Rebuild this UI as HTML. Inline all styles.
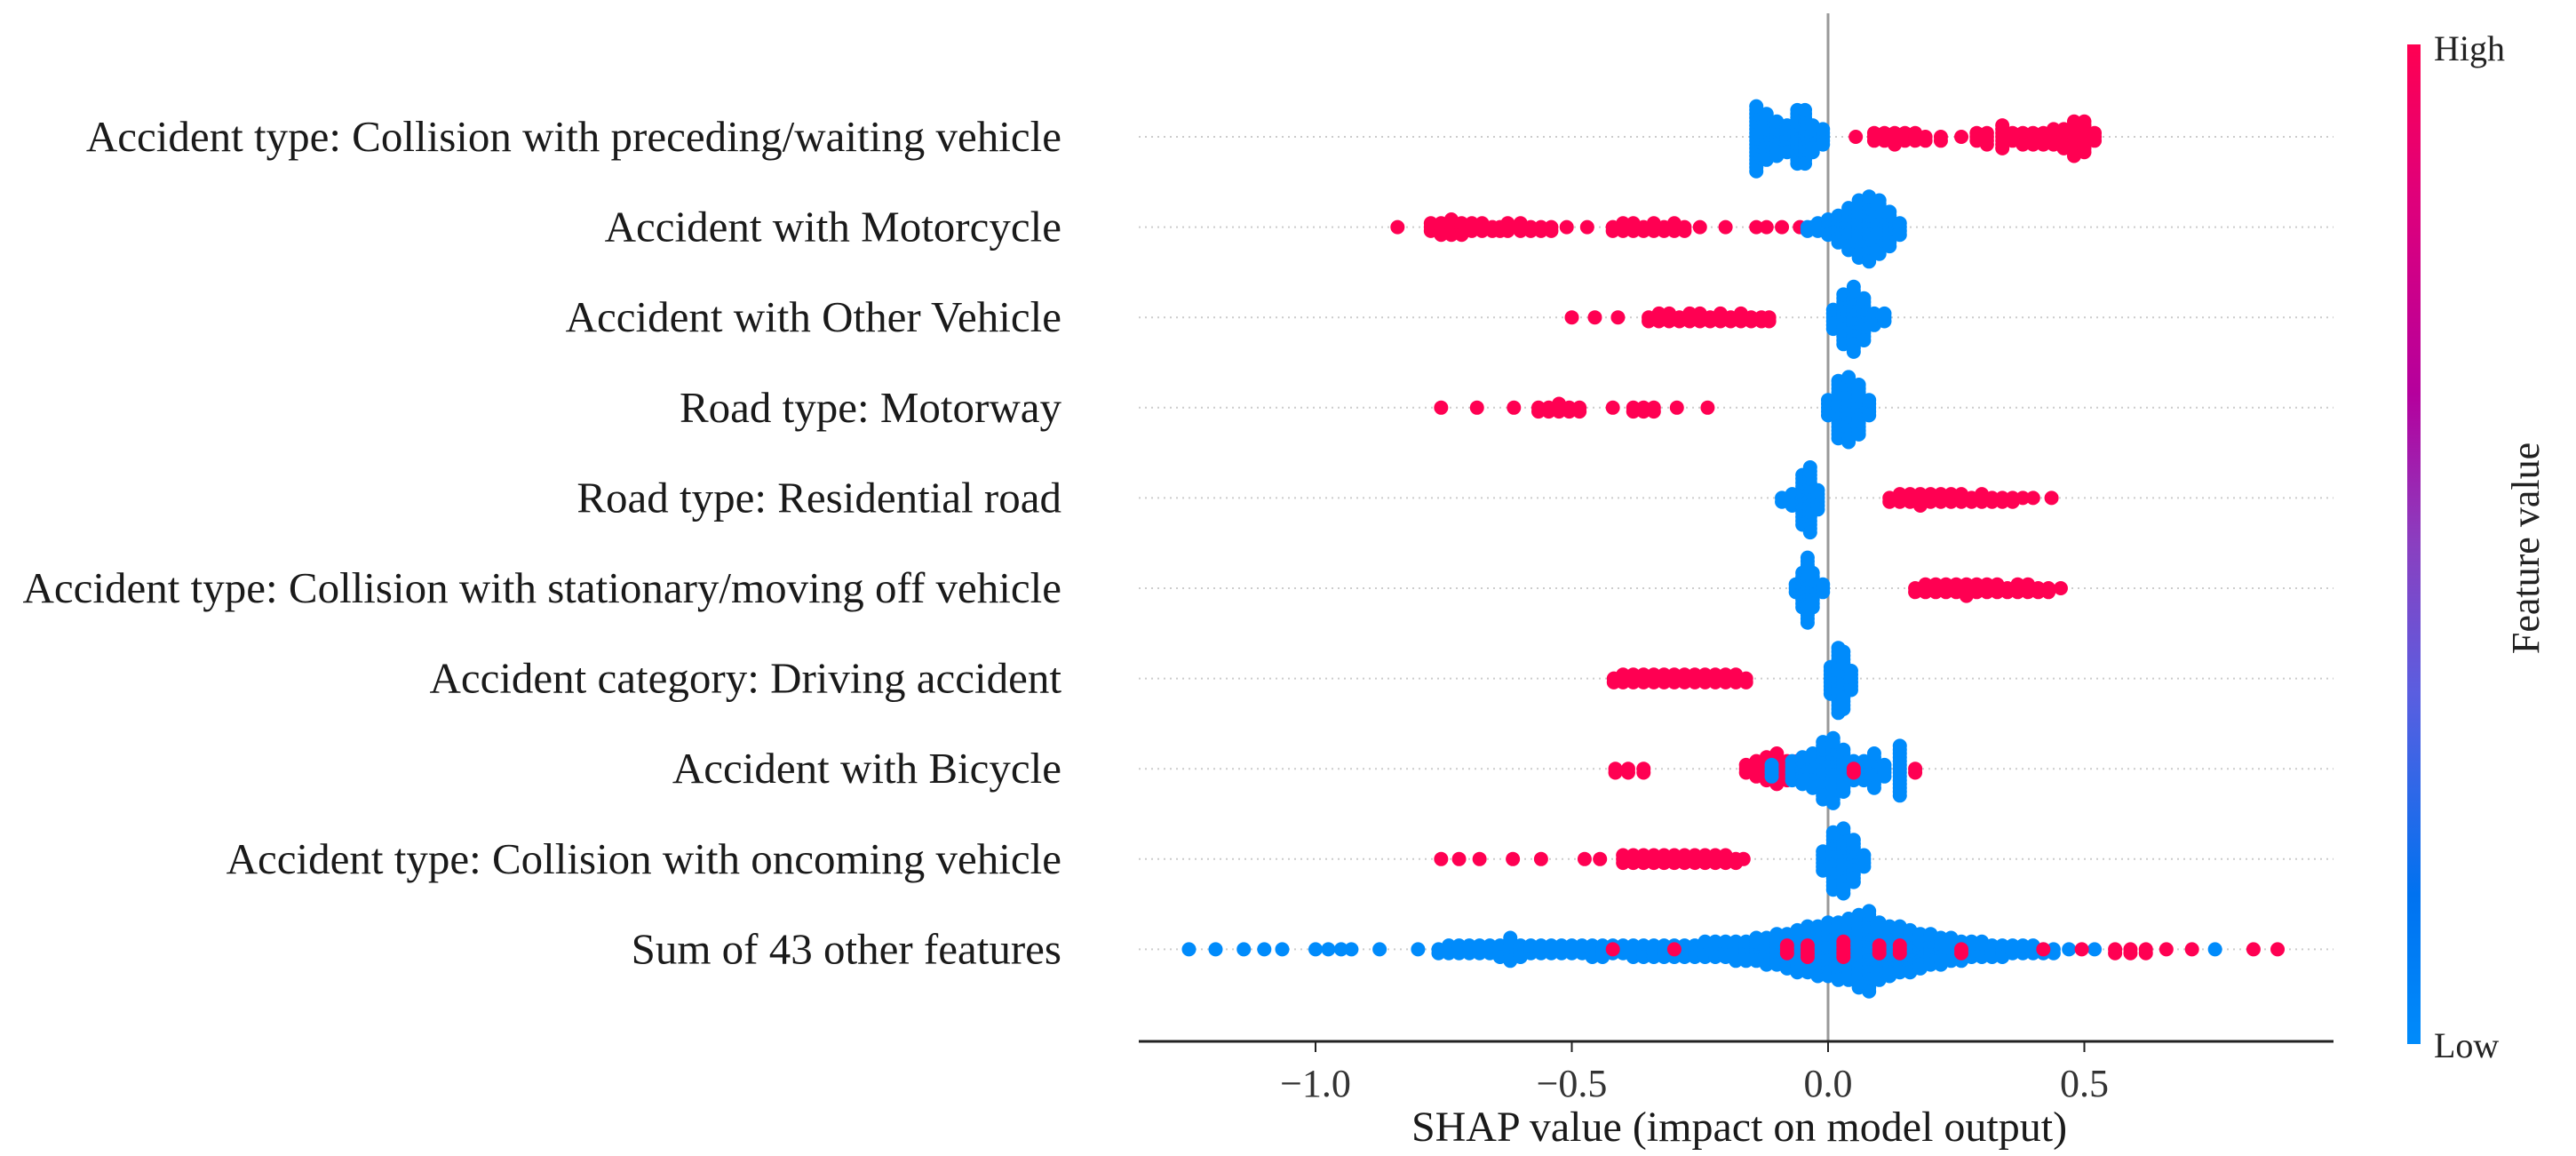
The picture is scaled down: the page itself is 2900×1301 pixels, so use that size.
<!DOCTYPE html>
<html><head><meta charset="utf-8"><style>
html,body{margin:0;padding:0;background:#fff;}
svg{display:block;font-family:"Liberation Serif",serif;}
</style></head><body>
<svg id="chart" width="2900" height="1301" viewBox="0 0 2900 1301" xmlns="http://www.w3.org/2000/svg">
<defs>
<linearGradient id="cbar" x1="0" y1="1" x2="0" y2="0">
<stop offset="0" stop-color="#008bfb"/>
<stop offset="0.15" stop-color="#0072f0"/>
<stop offset="0.35" stop-color="#5a5ee0"/>
<stop offset="0.5" stop-color="#8a3fc0"/>
<stop offset="0.65" stop-color="#b5009d"/>
<stop offset="0.85" stop-color="#e0007a"/>
<stop offset="1" stop-color="#ff0052"/>
</linearGradient>
</defs>
<g id="grid"></g>
<line x1="2058" y1="15" x2="2058" y2="1172" stroke="#999" stroke-width="3"/>
<g id="dots"></g>
<g id="labels"></g>
<g id="xaxis"></g>
<g>
<rect x="2710" y="50" width="15" height="1125" fill="url(#cbar)"/>
<text x="2740" y="68" font-size="40" fill="#222">High</text>
<text x="2740" y="1190" font-size="40" fill="#222">Low</text>
<text transform="translate(2858,617) rotate(-90)" text-anchor="middle" font-size="44" fill="#222">Feature value</text>
</g>
</svg>
<script>
const features = ["Accident type: Collision with preceding/waiting vehicle","Accident with Motorcycle","Accident with Other Vehicle","Road type: Motorway","Road type: Residential road","Accident type: Collision with stationary/moving off vehicle","Accident category: Driving accident","Accident with Bicycle","Accident type: Collision with oncoming vehicle","Sum of 43 other features"];
const xTicks = [-1.0,-0.5,0.0,0.5];
const xTickLabels = ["\u22121.0","\u22120.5","0.0","0.5"];
// per feature: bin values, dot counts, colour (H=high, L=low)
const binValues = [
 [-0.14,-0.12,-0.10,-0.08,-0.06,-0.045,-0.03,-0.01,0.054,0.09,0.11,0.13,0.15,0.17,0.19,0.22,0.26,0.29,0.31,0.34,0.36,0.38,0.40,0.42,0.44,0.46,0.48,0.50,0.52],
 [-0.84,-0.775,-0.755,-0.735,-0.715,-0.695,-0.675,-0.655,-0.64,-0.625,-0.6,-0.58,-0.56,-0.54,-0.51,-0.47,-0.42,-0.40,-0.38,-0.36,-0.34,-0.32,-0.30,-0.28,-0.25,-0.2,-0.14,-0.12,-0.09,-0.055,-0.03,-0.04,-0.02,0,0.02,0.04,0.06,0.08,0.10,0.12,0.14],
 [-0.50,-0.455,-0.41,-0.35,-0.33,-0.31,-0.29,-0.27,-0.25,-0.23,-0.21,-0.19,-0.17,-0.15,-0.13,-0.115,0.01,0.03,0.05,0.07,0.09,0.11],
 [-0.755,-0.685,-0.613,-0.565,-0.545,-0.525,-0.505,-0.485,-0.42,-0.38,-0.36,-0.34,-0.295,-0.235,0.0,0.02,0.04,0.06,0.08],
 [-0.09,-0.07,-0.05,-0.035,-0.02,0.12,0.14,0.16,0.18,0.20,0.22,0.24,0.26,0.28,0.30,0.32,0.34,0.36,0.38,0.40,0.436],
 [-0.063,-0.05,-0.04,-0.03,-0.01,0.17,0.19,0.21,0.23,0.25,0.27,0.29,0.31,0.33,0.35,0.37,0.39,0.41,0.43,0.454],
 [-0.418,-0.40,-0.38,-0.36,-0.34,-0.32,-0.30,-0.28,-0.26,-0.24,-0.22,-0.20,-0.18,-0.16,0.005,0.02,0.03,0.045],
 [-0.415,-0.39,-0.36,-0.16,-0.14,-0.12,-0.10,-0.08,-0.06,-0.04,-0.02,-0.11,-0.07,-0.05,-0.03,-0.01,0.01,0.03,0.05,0.07,0.09,0.11,0.14,0.05,0.17],
 [-0.755,-0.72,-0.68,-0.615,-0.56,-0.475,-0.445,-0.40,-0.38,-0.36,-0.34,-0.32,-0.30,-0.28,-0.26,-0.24,-0.22,-0.20,-0.18,-0.165,-0.01,0.01,0.03,0.05,0.07],
 [-1.247,-1.195,-1.14,-1.10,-1.065,-1.0,-0.975,-0.95,-0.93,-0.875,-0.80,-0.76,-0.74,-0.72,-0.70,-0.68,-0.66,-0.64,-0.62,-0.60,-0.58,-0.56,-0.54,-0.52,-0.50,-0.48,-0.46,-0.44,-0.42,-0.40,-0.38,-0.36,-0.34,-0.32,-0.30,-0.28,-0.26,-0.24,-0.22,-0.20,-0.18,-0.16,-0.14,-0.12,-0.10,-0.08,-0.06,-0.04,-0.02,0.0,0.02,0.04,0.06,0.08,0.10,0.12,0.14,0.16,0.18,0.20,0.22,0.24,0.26,0.28,0.30,0.32,0.34,0.36,0.38,0.40,0.42,0.44,0.47,0.52,0.755,-0.42,-0.30,-0.08,-0.04,0.03,0.10,0.14,0.26,0.42,0.495,0.56,0.59,0.62,0.66,0.71,0.83,0.877]
];
const binCounts = [
 [18,13,10,8,15,15,8,5,1,3,3,4,3,3,2,2,1,3,4,7,3,4,4,4,5,6,10,9,3],
 [1,3,4,5,4,3,3,2,2,3,3,2,2,2,1,1,2,3,3,2,3,2,3,2,1,1,1,1,1,1,1,2,3,5,8,12,16,18,15,10,4],
 [1,1,1,2,3,3,2,3,3,2,3,2,3,2,2,2,6,14,18,12,4,3],
 [1,1,1,2,2,3,2,2,1,2,2,2,1,1,5,16,18,14,5],
 [2,4,14,18,6,2,3,3,4,3,3,3,3,2,3,2,2,2,1,1,1],
 [3,10,18,10,3,2,3,3,3,3,4,3,3,3,2,3,3,2,2,1],
 [2,3,3,3,3,3,3,3,3,3,3,3,3,2,8,18,16,6],
 [2,2,2,3,5,7,9,6,5,4,3,4,6,8,10,16,18,12,6,6,10,4,14,2,2],
 [1,1,1,1,1,1,1,3,3,3,3,3,3,3,3,3,3,3,2,1,6,16,18,12,4],
 [1,1,1,1,1,1,1,1,1,1,1,2,3,3,3,3,3,4,7,4,3,3,3,3,3,3,4,4,3,3,4,4,4,4,4,4,4,5,5,5,6,6,7,8,9,10,12,13,14,15,16,17,20,22,16,14,13,12,10,9,8,7,6,5,5,4,4,3,3,3,2,2,1,1,1,1,1,3,4,5,3,3,2,1,1,2,2,2,1,1,1,1,1]
];
const binColors = [
 "LLLLLLLLHHHHHHHHHHHHHHHHHHHHH",
 "HHHHHHHHHHHHHHHHHHHHHHHHHHHHHHLLLLLLLLLL",
 "HHHHHHHHHHHHHHHHLLLLLL",
 "HHHHHHHHHHHHHHLLLLL",
 "LLLLLHHHHHHHHHHHHHHHH",
 "LLLLLHHHHHHHHHHHHHHH",
 "HHHHHHHHHHHHHHLLLL",
 "HHHHHHHHHHHLLLLLLLLLLLLHH",
 "HHHHHHHHHHHHHHHHHHHHLLLLL",
 "LLLLLLLLLLLLLLLLLLLLLLLLLLLLLLLLLLLLLLLLLLLLLLLLLLLLLLLLLLLLLLLLLLLLLLLLLLLHHHHHHHHHHHHHHHHHH"
];

const NS = "http://www.w3.org/2000/svg";
const X0 = 2058, XS = 577, AX1 = 1282, AX2 = 2627, AXY = 1172;
const ROW0 = 154, ROWSTEP = 101.6, R = 8, STEP = 4.3;
const xScale = v => X0 + XS * v;
const yRow = i => ROW0 + i * ROWSTEP;
function mk(tag, attrs, parent) { const e = document.createElementNS(NS, tag); for (const k in attrs) e.setAttribute(k, attrs[k]); parent.appendChild(e); return e; }

const grid = document.getElementById('grid');
const dots = document.getElementById('dots');
const labels = document.getElementById('labels');
const xaxis = document.getElementById('xaxis');

features.forEach((f, i) => {
  const cy = yRow(i);
  const g = mk('line', {x1: AX1, x2: AX2, y1: cy, y2: cy, stroke: '#ccc', 'stroke-width': 2, 'stroke-dasharray': '2 5'}, grid);
  
  
  const t = mk('text', {x: 1195, y: cy + 16, 'text-anchor': 'end', 'font-size': 49, fill: '#1a1a1a'}, labels);
  t.textContent = f;
  
  
  const vals = binValues[i], cnts = binCounts[i], cols = binColors[i];
  vals.forEach((v, j) => {
    const n = cnts[j] || 1;
    const col = cols[j] === 'H' ? '#ff0052' : '#008bfb';
    for (let k = 0; k < n; k++) {
      const off = k === 0 ? 0 : (k % 2 ? 1 : -1) * Math.ceil(k / 2) * STEP;
      const c = mk('circle', {cx: xScale(v), cy: cy + off, r: R, fill: col}, dots);
      
      
    }
  });
});

const axl = mk('line', {x1: AX1, x2: AX2, y1: AXY, y2: AXY, stroke: '#222', 'stroke-width': 3}, xaxis);


xTicks.forEach((v, i) => {
  const tk = mk('line', {x1: xScale(v), x2: xScale(v), y1: AXY, y2: AXY + 12, stroke: '#222', 'stroke-width': 2}, xaxis);
  
  
  const tl = mk('text', {x: xScale(v), y: AXY + 62, 'text-anchor': 'middle', 'font-size': 44, fill: '#333'}, xaxis);
  tl.textContent = xTickLabels[i];
  
  
});
const xt = mk('text', {x: 1958, y: 1284, 'text-anchor': 'middle', 'font-size': 48, fill: '#1a1a1a'}, xaxis);
xt.textContent = 'SHAP value (impact on model output)';


</script>
</body></html>
